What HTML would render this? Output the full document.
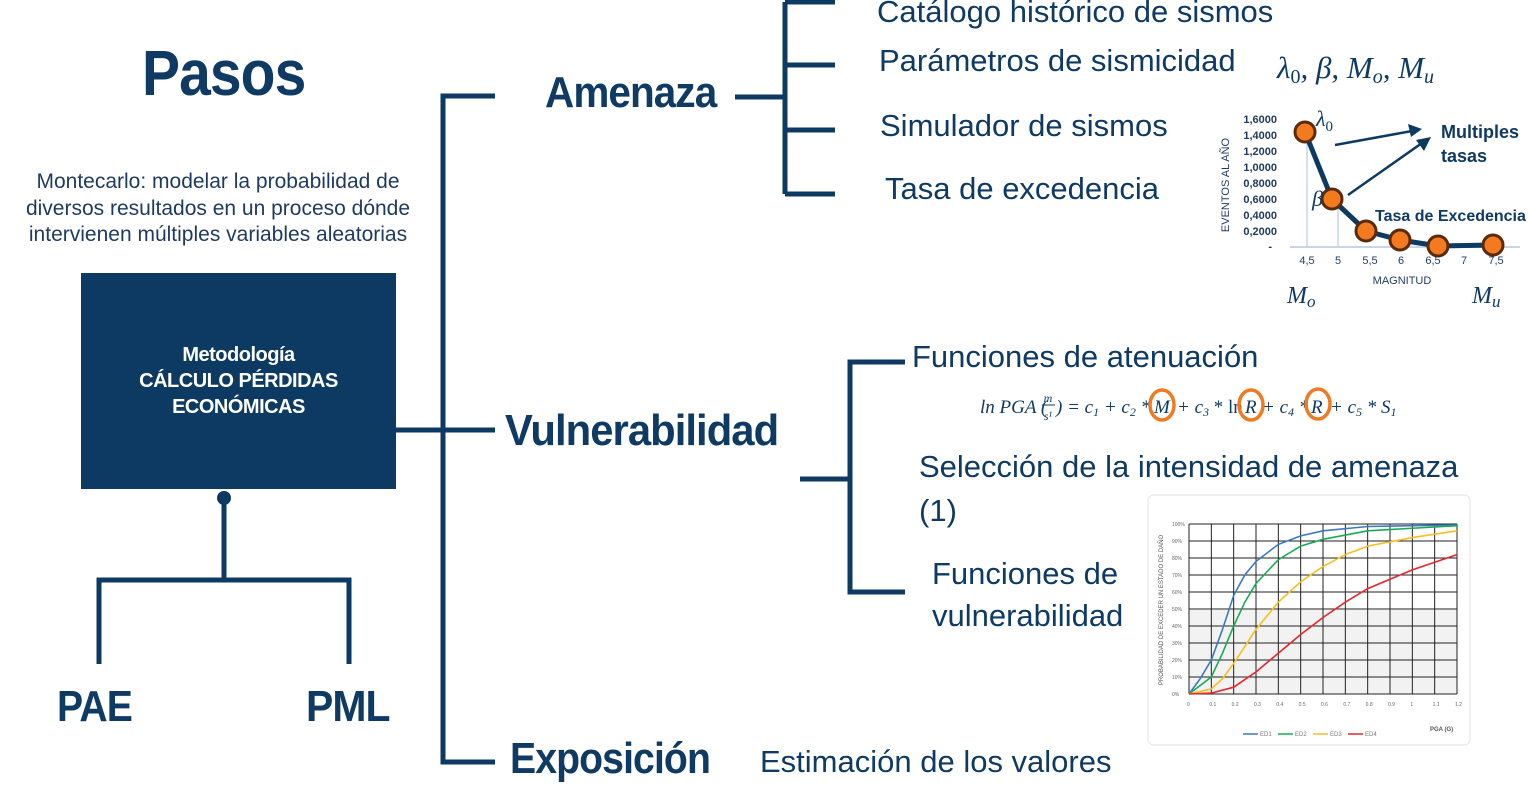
<!DOCTYPE html>
<html><head><meta charset="utf-8"><style>
html,body{margin:0;padding:0;background:#fff;}
body{width:1528px;height:790px;position:relative;overflow:hidden;font-family:"Liberation Sans",sans-serif;}
.t{position:absolute;white-space:nowrap;color:#0f3a63;transform-origin:0 0;}
.h{font-weight:bold;letter-spacing:-1px;}
.s{font-size:31px;color:#0f3a63;}
</style></head><body>
<svg width="1528" height="790" style="position:absolute;left:0;top:0" id="svg">
<g stroke="#0d3a63" stroke-width="5" fill="none">
<rect x="81" y="273" width="315" height="216" fill="#0d3a63" stroke="none"/>
<line x1="224" y1="498" x2="224" y2="580"/>
<polyline points="99,664 99,580 349,580 349,664"/>
<polyline points="495,96 443,96 443,762 495,762"/>
<line x1="396" y1="430" x2="495" y2="430"/>
<line x1="735" y1="97" x2="785" y2="97"/>
<line x1="785" y1="2" x2="785" y2="194"/>
<line x1="785" y1="2" x2="835" y2="2"/><line x1="785" y1="65" x2="835" y2="65"/>
<line x1="785" y1="130" x2="835" y2="130"/><line x1="785" y1="194" x2="835" y2="194"/>
<line x1="800" y1="479" x2="850" y2="479"/>
<polyline points="905,362 850,362 850,592 905,592"/>
</g>
<circle cx="224" cy="498" r="7" fill="#0d3a63"/>
<!-- chart 1 -->
<g font-family="Liberation Sans" font-weight="bold" font-size="11" fill="#1f3a5f" text-anchor="end">
<text x="1277" y="123">1,6000</text><text x="1277" y="139">1,4000</text><text x="1277" y="155">1,2000</text>
<text x="1277" y="171">1,0000</text><text x="1277" y="187">0,8000</text><text x="1277" y="203">0,6000</text>
<text x="1277" y="219">0,4000</text><text x="1277" y="235">0,2000</text><text x="1272" y="250">-</text>
</g>
<g font-size="11" fill="#1f3a5f" text-anchor="middle" font-family="Liberation Sans">
<text x="1307" y="264">4,5</text><text x="1338" y="264">5</text><text x="1370" y="264">5,5</text><text x="1401" y="264">6</text><text x="1433" y="264">6,5</text><text x="1464" y="264">7</text><text x="1496" y="264">7,5</text>
<text x="1402" y="284">MAGNITUD</text>
<text transform="translate(1229,185) rotate(-90)">EVENTOS AL AÑO</text>
</g>
<line x1="1290" y1="247" x2="1520" y2="247" stroke="#c8d4ea" stroke-width="2"/>
<line x1="1307" y1="130" x2="1307" y2="247" stroke="#c8d4ea" stroke-width="1.5"/>
<line x1="1338" y1="195" x2="1338" y2="247" stroke="#c8d4ea" stroke-width="1.5"/>
<polyline points="1305,132 1332,199 1366,231 1400,240 1438,246 1493,245" fill="none" stroke="#0d3a63" stroke-width="5"/>
<g fill="#f47a20" stroke="#5a2a0a" stroke-width="3">
<circle cx="1305" cy="132" r="10"/><circle cx="1332" cy="199" r="10"/><circle cx="1366" cy="231" r="10"/><circle cx="1400" cy="240" r="10"/><circle cx="1438" cy="246" r="10"/><circle cx="1493" cy="245" r="10"/>
</g>
<g stroke="#0d3a63" stroke-width="2.5" fill="#0d3a63">
<line x1="1335" y1="145" x2="1412" y2="131"/><polygon points="1422,129 1408,124 1411,137" stroke="none"/>
<line x1="1348" y1="195" x2="1422" y2="143"/><polygon points="1431,137 1416,140 1424,151" stroke="none"/>
</g>
<g font-family="Liberation Serif" font-style="italic" fill="#0f3a63">
<text x="1316" y="126" font-size="22">λ<tspan font-size="15" dy="5" font-style="normal">0</tspan></text>
<text x="1312" y="206" font-size="22">β</text>
<text x="1287" y="303" font-size="24">M<tspan font-size="17" dy="4">o</tspan></text>
<text x="1472" y="303" font-size="24">M<tspan font-size="17" dy="4">u</tspan></text>
<text x="1277" y="78" font-size="31">λ<tspan font-size="20" dy="5" font-style="normal">0</tspan><tspan dy="-5">, β, M</tspan><tspan font-size="20" dy="5">o</tspan><tspan dy="-5">, M</tspan><tspan font-size="20" dy="5">u</tspan></text>
</g>
<g font-family="Liberation Sans" font-weight="bold" fill="#0f3a63">
<text x="1441" y="138" font-size="18">Multiples</text><text x="1441" y="162" font-size="18">tasas</text>
<text x="1375" y="221" font-size="16">Tasa de Excedencia</text>
</g>
<!-- formula -->
<g font-family="Liberation Serif" font-style="italic" font-size="19" fill="#0f3a63">
<text x="980" y="413">ln PGA (</text>
<text x="1048" y="402" font-size="12" text-anchor="middle">m</text>
<line x1="1042" y1="405" x2="1055" y2="405" stroke="#0f3a63" stroke-width="1"/>
<text x="1048" y="420" font-size="12" text-anchor="middle">s¹</text>
<text x="1056" y="413">) = c<tspan font-size="12" dy="3">1</tspan><tspan dy="-3"> + c</tspan><tspan font-size="12" dy="3">2</tspan><tspan dy="-3"> *</tspan></text>
<text x="1154" y="413">M</text>
<text x="1177" y="413">+ c<tspan font-size="12" dy="3">3</tspan><tspan dy="-3" font-style="normal"> * ln</tspan></text>
<text x="1245" y="413">R</text>
<text x="1262" y="413">+  c<tspan font-size="12" dy="3">4</tspan><tspan dy="-3"> *</tspan></text>
<text x="1311" y="413">R</text>
<text x="1330" y="413">+  c<tspan font-size="12" dy="3">5</tspan><tspan dy="-3"> * S</tspan><tspan font-size="12" dy="3">1</tspan></text>
</g>
<g fill="none" stroke="#f07a22" stroke-width="3.5">
<ellipse cx="1162" cy="405" rx="12" ry="15"/><ellipse cx="1251" cy="405" rx="12" ry="15"/><ellipse cx="1318" cy="404" rx="12" ry="15"/>
</g>
<!-- chart 2 -->
<rect x="1148" y="495" width="322" height="250" rx="6" fill="#fff" stroke="#e2e2e2"/>
<rect x="1189" y="610" width="268" height="84" fill="#f2f2f2"/>
<g id="grid" stroke="#222" stroke-width="1"></g>
<g id="curves" fill="none" stroke-width="1.6"></g>
<g font-size="5" fill="#666" font-family="Liberation Sans" id="lab"></g>
<text font-size="6" fill="#555" transform="translate(1163,610) rotate(-90)" text-anchor="middle" font-family="Liberation Sans">PROBABILIDAD DE EXCEDER UN ESTADO DE DAÑO</text>
<text x="1430" y="731" font-size="6" font-weight="bold" fill="#555" font-family="Liberation Sans">PGA (G)</text>
<g font-size="6" fill="#777" font-family="Liberation Sans">
<line x1="1243" y1="734" x2="1258" y2="734" stroke="#3b78c4" stroke-width="1.5"/><text x="1260" y="736">ED1</text>
<line x1="1278" y1="734" x2="1293" y2="734" stroke="#1aaa55" stroke-width="1.5"/><text x="1295" y="736">ED2</text>
<line x1="1313" y1="734" x2="1328" y2="734" stroke="#f4c020" stroke-width="1.5"/><text x="1330" y="736">ED3</text>
<line x1="1348" y1="734" x2="1363" y2="734" stroke="#e8252a" stroke-width="1.5"/><text x="1365" y="736">ED4</text>
</g>
</svg>
<div class="t h" style="left:142px;top:36px;font-size:64px;transform:scaleX(0.89);">Pasos</div>
<div class="t" style="left:0;width:436px;top:169px;font-size:21px;line-height:26.5px;text-align:center;color:#1f3a5f;">Montecarlo: modelar la probabilidad de<br>diversos resultados en un proceso dónde<br>intervienen múltiples variables aleatorias</div>
<div class="t" style="left:81px;width:315px;top:342px;font-size:20px;line-height:26px;text-align:center;color:#fff;font-weight:bold;letter-spacing:-0.5px;">Metodología<br>CÁLCULO PÉRDIDAS<br>ECONÓMICAS</div>
<div class="t h" style="left:57px;top:682px;font-size:44px;transform:scaleX(0.89);">PAE</div>
<div class="t h" style="left:306px;top:682px;font-size:44px;transform:scaleX(0.93);">PML</div>
<div class="t h" style="left:545px;top:68px;font-size:44px;transform:scaleX(0.92);">Amenaza</div>
<div class="t h" style="left:505px;top:406px;font-size:44px;transform:scaleX(0.95);">Vulnerabilidad</div>
<div class="t h" style="left:510px;top:734px;font-size:44px;transform:scaleX(0.89);">Exposición</div>
<div class="t s" style="left:877px;top:-6px;">Catálogo histórico de sismos</div>
<div class="t s" style="left:879px;top:43px;">Parámetros de sismicidad</div>
<div class="t s" style="left:880px;top:108px;">Simulador de sismos</div>
<div class="t s" style="left:885px;top:171px;">Tasa de excedencia</div>
<div class="t s" style="left:912px;top:339px;">Funciones de atenuación</div>
<div class="t s" style="left:919px;top:449px;">Selección de la intensidad de amenaza</div>
<div class="t s" style="left:919px;top:493px;">(1)</div>
<div class="t s" style="left:932px;top:556px;">Funciones de</div>
<div class="t s" style="left:932px;top:598px;">vulnerabilidad</div>
<div class="t s" style="left:760px;top:744px;">Estimación de los valores</div>
<script>
var NS="http://www.w3.org/2000/svg";
function el(p,t,a){var e=document.createElementNS(NS,t);for(var k in a)e.setAttribute(k,a[k]);document.getElementById(p).appendChild(e);return e;}
var x0=1189,x1=1457,y0=694,y1=524;
for(var i=0;i<=12;i++){var x=x0+(x1-x0)*i/12;el("grid","line",{x1:x,y1:y1,x2:x,y2:y0});var tx=el("lab","text",{x:x-2,y:706});tx.textContent=i==0?"0":(i==10?"1":(i/10).toFixed(1));}
for(var j=0;j<=10;j++){var y=y0-(y0-y1)*j/10;el("grid","line",{x1:x0,y1:y,x2:x1,y2:y});var ty=el("lab","text",{x:1172,y:y+2});ty.textContent=(j*10)+"%";}
var C=[["#3b78c4",[[0,0],[.05,9],[.1,20],[.15,38],[.2,58],[.25,70],[.3,78],[.4,88],[.5,93],[.6,96],[.8,98.5],[1.2,99.5]]],
["#1aaa55",[[0,0],[.1,10],[.15,24],[.2,40],[.25,54],[.3,65],[.4,79],[.5,87],[.6,91],[.8,96],[1.2,99]]],
["#f4c020",[[0,0],[.1,3],[.15,9],[.2,18],[.3,38],[.4,54],[.5,66],[.6,75],[.7,82],[.8,87],[1,92],[1.2,96]]],
["#e8252a",[[0,0],[.1,.5],[.2,4],[.3,13],[.4,24],[.5,35],[.6,45],[.7,54],[.8,62],[1,73],[1.2,82]]]];
C.forEach(function(c){var p=c[1].map(function(q){return (x0+q[0]/1.2*(x1-x0)).toFixed(1)+","+(y0-q[1]/100*(y0-y1)).toFixed(1);}).join(" ");el("curves","polyline",{points:p,stroke:c[0]});});
</script>
</body></html>
